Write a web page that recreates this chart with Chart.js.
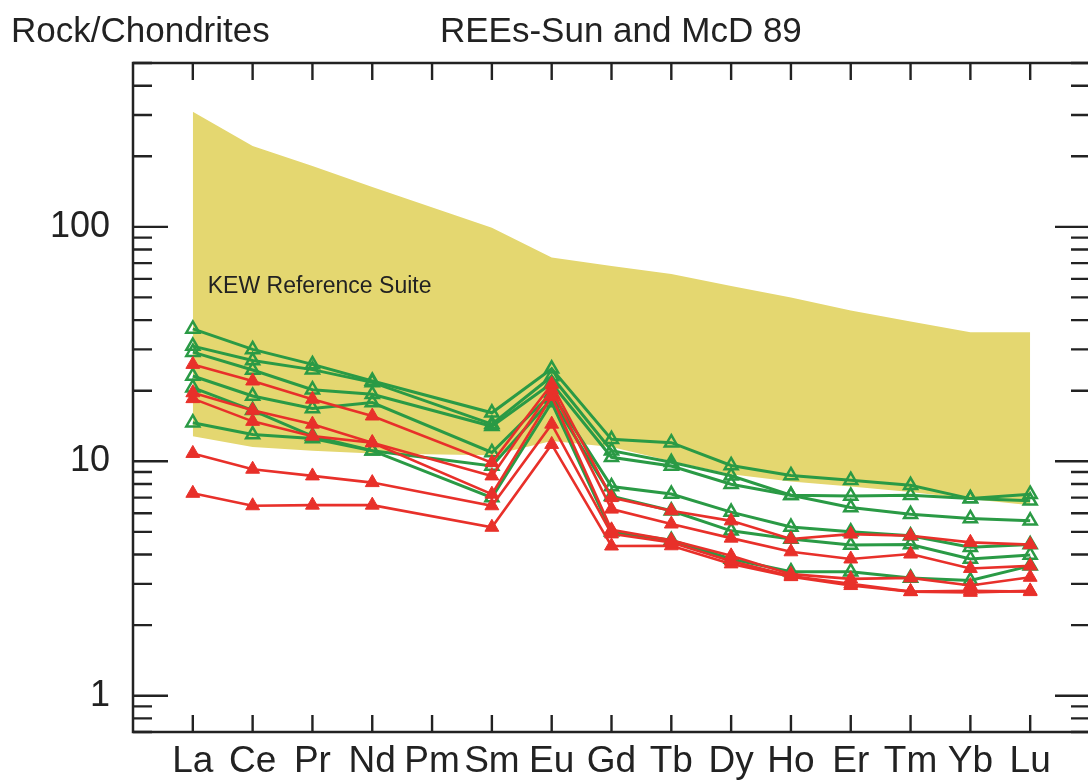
<!DOCTYPE html>
<html>
<head>
<meta charset="utf-8">
<script src="https://cdn.jsdelivr.net/npm/chart.js@4"></script>
<style>
  body { margin: 0; overflow: hidden; background: #fff; }
  #wrap { position: absolute; left: 0; top: 0; width: 1100px; height: 782px; }
</style>
</head>
<body>
<div id="wrap"><canvas id="c" width="1100" height="782"></canvas></div>
<script>
// REE order (Pm has a tick but no data)
const elements = ["La", "Ce", "Pr", "Nd", "Pm", "Sm", "Eu", "Gd", "Tb", "Dy", "Ho", "Er", "Tm", "Yb", "Lu"];
const yLabels = [1, 10, 100];

// KEW reference suite envelope
const bandTop = [310, 221, 182, 148, null, 99, 74, 68, 63, 56, 50, 44, 39.5, 35.5, 35.5];
const bandBottom = [12.8, 11.5, 11.1, 10.8, null, 10.6, 12.2, 11.5, 10.0, 8.8, 8.2, 7.8, 7.4, 6.9, 6.5];

// green samples (open triangles)
const green1 = [36.7, 30.0, 25.9, 22.0, null, 16.1, 24.8, 12.4, 12.0, 9.6, 8.7, 8.3, 7.9, 6.93, 6.78];
const green2 = [31.0, 26.9, 24.6, 21.7, null, 14.4, 23.0, 11.1, 9.9, 8.67, 7.16, 7.11, 7.16, 6.93, 7.24];
const green3 = [29.2, 24.5, 20.2, 19.3, null, 14.1, 21.5, 10.4, 9.55, 7.98, 7.16, 6.35, 5.94, 5.70, 5.57];
const green4 = [23.1, 19.0, 16.8, 17.8, null, 10.9, 19.5, 7.8, 7.25, 6.07, 5.24, 5.0, 4.81, 4.30, 4.41];
const green5 = [20.6, 16.5, 12.8, 11.1, null, 7.0, 17.8, 5.0, 4.6, 3.83, 3.38, 3.38, 3.18, 3.10, 3.58];
const green6 = [14.6, 13.0, 12.5, 11.1, null, 9.55, 18.5, 7.1, 6.15, 5.05, 4.66, 4.39, 4.41, 3.83, 3.98];

// red samples (filled triangles)
const red1 = [25.9, 22.0, 18.4, 15.6, null, 9.87, 21.3, 7.0, 6.15, 5.57, 4.66, 4.89, 4.81, 4.51, 4.41];
const red2 = [19.6, 16.5, 14.4, 12.0, null, 8.66, 20.2, 6.25, 5.4, 4.70, 4.11, 3.83, 4.02, 3.49, 3.58];
const red3 = [18.5, 14.8, 12.8, 12.0, null, 7.24, 18.9, 5.1, 4.6, 3.95, 3.3, 3.15, 3.18, 2.95, 3.20];
const red4 = [10.8, 9.25, 8.66, 8.11, null, 6.46, 14.4, 4.9, 4.5, 3.75, 3.24, 3.0, 2.78, 2.76, 2.80];
const red5 = [7.3, 6.46, 6.5, 6.5, null, 5.23, 11.8, 4.35, 4.36, 3.65, 3.22, 2.95, 2.78, 2.80, 2.78];

const GREEN = "#2a9a45";
const RED = "#e8302a";
const BAND = "#e4d770";
const INK = "#222";
const FONT = "'Liberation Sans', Arial, sans-serif";

function toPoints(arr) {
    return arr.map((v, i) => ({ x: i + 1, y: v })).filter(p => p.y !== null);
}

function greenSet(arr) {
    return {
        data: toPoints(arr), borderColor: GREEN, borderWidth: 3,
        pointStyle: "triangle", pointRadius: 7.5, pointBorderWidth: 2.5,
        pointBackgroundColor: "rgba(0,0,0,0)", pointBorderColor: GREEN,
        fill: false, order: 1
    };
}
function redSet(arr) {
    return {
        data: toPoints(arr), borderColor: RED, borderWidth: 2.6,
        pointStyle: "triangle", pointRadius: 8, pointBorderWidth: 1,
        pointBackgroundColor: RED, pointBorderColor: RED,
        fill: false, order: 0
    };
}

// frame, inward ticks and text
const framePlugin = {
    id: "frame",
    afterDraw(chart) {
        const ctx = chart.ctx;
        const a = chart.chartArea;
        const xs = chart.scales.x, ys = chart.scales.y;
        ctx.save();
        ctx.strokeStyle = INK;
        ctx.lineWidth = 2.5;
        ctx.strokeRect(a.left, a.top, a.right - a.left, a.bottom - a.top);
        ctx.lineWidth = 2.4;
        ctx.beginPath();
        elements.forEach((e, i) => {
            const x = xs.getPixelForValue(i + 1);
            ctx.moveTo(x, a.top); ctx.lineTo(x, a.top + 17);
            ctx.moveTo(x, a.bottom); ctx.lineTo(x, a.bottom - 17);
        });
        for (let d = 0.1; d <= 100; d *= 10) {
            for (let m = 1; m <= 9; m++) {
                const v = Math.round(d * m * 100) / 100;
                if (v < ys.min || v > ys.max) continue;
                const y = ys.getPixelForValue(v);
                const len = m === 1 ? 35 : 19;
                ctx.moveTo(a.left, y); ctx.lineTo(a.left + len, y);
                ctx.moveTo(a.right, y); ctx.lineTo(a.right - len, y);
            }
        }
        ctx.stroke();
        ctx.fillStyle = INK;
        ctx.font = "35px " + FONT;
        ctx.textBaseline = "alphabetic";
        ctx.textAlign = "left";
        ctx.fillText("Rock/Chondrites", 11, 42);
        ctx.fillText("REEs-Sun and McD 89", 440, 42);
        ctx.font = "23px " + FONT;
        ctx.fillText("KEW Reference Suite", xs.getPixelForValue(1.25), ys.getPixelForValue(52));
        ctx.restore();
    }
};

const datasets = [
    { data: toPoints(bandBottom), borderWidth: 0, pointRadius: 0, fill: false, order: 10 },
    { data: toPoints(bandTop), borderWidth: 0, pointRadius: 0, backgroundColor: BAND, fill: "-1", order: 10 },
    greenSet(green1), greenSet(green2), greenSet(green3), greenSet(green4), greenSet(green5), greenSet(green6),
    redSet(red1), redSet(red2), redSet(red3), redSet(red4), redSet(red5)
];

new Chart(document.getElementById("c"), {
    type: "line",
    data: { datasets: datasets },
    options: {
        responsive: false,
        devicePixelRatio: 1,
        animation: false,
        layout: { padding: { top: 63, right: 7, left: 0, bottom: 0 } },
        plugins: { legend: { display: false }, tooltip: { enabled: false } },
        elements: { line: { tension: 0 } },
        scales: {
            x: {
                type: "linear", min: 0, max: 16,
                afterBuildTicks: s => { s.ticks = elements.map((e, i) => ({ value: i + 1 })); },
                afterFit: s => { s.height = 50; },
                grid: { display: false, drawTicks: false },
                border: { display: false },
                ticks: {
                    autoSkip: false, maxRotation: 0, padding: 8, color: INK,
                    font: { size: 37, family: FONT },
                    callback: v => elements[v - 1] || ""
                }
            },
            y: {
                type: "logarithmic", min: 0.7, max: 500,
                afterBuildTicks: s => { s.ticks = yLabels.map(v => ({ value: v })); },
                afterFit: s => { s.width = 133; },
                grid: { display: false, drawTicks: false },
                border: { display: false },
                ticks: {
                    padding: 23, color: INK,
                    font: { size: 36, family: FONT },
                    callback: v => String(v)
                }
            }
        }
    },
    plugins: [framePlugin]
});
</script>
</body>
</html>
